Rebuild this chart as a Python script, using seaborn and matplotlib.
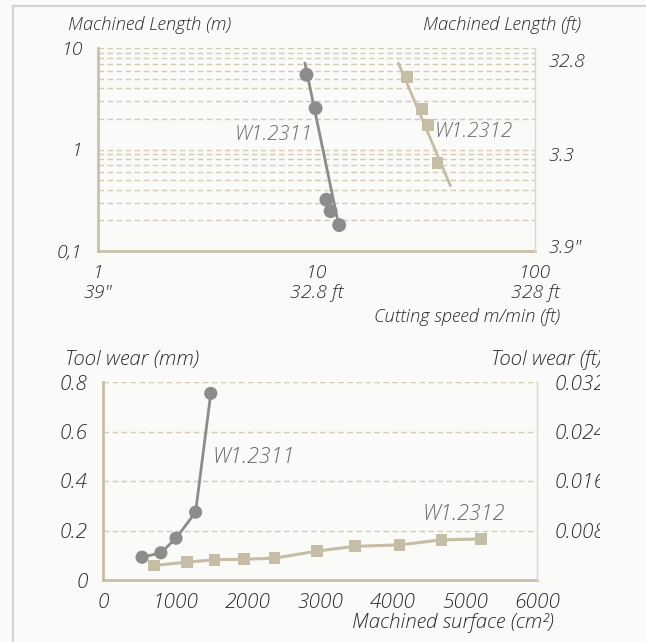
import numpy as np
import pandas as pd
import matplotlib
matplotlib.use("Agg")
import matplotlib.pyplot as plt
import matplotlib.ticker as mticker
from matplotlib.lines import Line2D
import seaborn as sns

# ---------------- data ----------------
# Top chart: machined length (m) vs cutting speed (m/min), log-log
speed_2311 = [9.0, 9.9, 11.1, 11.6, 12.7]
length_2311 = [5.45, 2.55, 0.32, 0.247, 0.18]
speed_2312 = [25.9, 30.5, 32.3, 35.8]
length_2312 = [5.16, 2.5, 1.74, 0.73]
# power-law trend lines (end values)
trend_speed_2311 = [8.85, 12.5]
trend_length_2311 = [7.1, 0.2]
trend_speed_2312 = [23.7, 41.0]
trend_length_2312 = [7.1, 0.44]

top_xticks = [1, 10, 100]
top_xlabels = ['1\n39"', '10\n32.8 ft', '100\n328 ft']
top_yticks = [0.1, 1, 10]
top_ylabels = ['0,1', '1', '10']
top_rticks = [7.66, 0.9, 0.113]
top_rlabels = ['32.8', '3.3', '3.9"']

# Bottom chart: tool wear (mm) vs machined surface (cm²)
surface_2311 = [540, 800, 1010, 1280, 1490]
wear_2311 = [0.092, 0.11, 0.169, 0.274, 0.754]
surface_2312 = [710, 1160, 1540, 1950, 2370, 2960, 3480, 4100, 4680, 5230]
wear_2312 = [0.059, 0.072, 0.082, 0.084, 0.088, 0.117, 0.136, 0.142, 0.162, 0.166]

bot_xticks = [0, 1000, 2000, 3000, 4000, 5000, 6000]
bot_yticks = [0, 0.2, 0.4, 0.6, 0.8]
bot_ylabels = ['0', '0.2', '0.4', '0.6', '0.8']
bot_rticks = [0.2, 0.4, 0.6, 0.8]
bot_rlabels = ['0.008', '0.016', '0.024', '0.032']

# ---------------- style ----------------
BG = '#fafaf8'
GRAY = '#8c8c8c'
TAN = '#c6bda6'
SPINE = '#c9c0aa'
GRID = '#d3cbb7'
TXT = '#2a2a2a'
LBL = '#6a6a6a'

sns.set_theme(style="white")
plt.rcParams['font.family'] = ['Open Sans', 'DejaVu Sans']
plt.rcParams['font.style'] = 'italic'
plt.rcParams['font.weight'] = 'light'
plt.rcParams['text.color'] = TXT
plt.rcParams['xtick.color'] = TXT
plt.rcParams['ytick.color'] = TXT

W, H = 646, 642
fig = plt.figure(figsize=(W / 100, H / 100), dpi=100, facecolor=BG)


def rect(x0, y0, x1, y1):
    return [x0 / W, 1 - y1 / H, (x1 - x0) / W, (y1 - y0) / H]


def fx(x):
    return x / W


def fy(y):
    return 1 - y / H


# frame lines
fig.add_artist(Line2D([fx(13), fx(13)], [fy(6), 0], color='#d2d2d2', lw=1.6))
fig.add_artist(Line2D([fx(13), 1], [fy(6), fy(6)], color='#d2d2d2', lw=1.6))

TICK_TOP = 14
TICK_BOT = 15
TITLE_FS_TOP = 13.2
TITLE_FS_BOT = 14.8


def style_main(ax, fs):
    ax.set_facecolor(BG)
    for s in ['top', 'right']:
        ax.spines[s].set_visible(False)
    for s in ['left', 'bottom']:
        ax.spines[s].set_color(SPINE)
        ax.spines[s].set_linewidth(2)
    ax.tick_params(axis='y', length=0, labelsize=fs, pad=11, labelcolor=TXT)
    ax.tick_params(axis='x', which='major', direction='inout', length=9, width=1.2,
                   color=SPINE, labelsize=fs, pad=5, labelcolor=TXT)
    ax.tick_params(axis='x', which='minor', length=0)


def style_right(axr, fs):
    axr.set_facecolor('none')
    for s in ['top', 'left', 'bottom']:
        axr.spines[s].set_visible(False)
    axr.spines['right'].set_color('#dcd6c8')
    axr.spines['right'].set_linewidth(1)
    axr.tick_params(axis='y', which='both', length=0, labelsize=fs, pad=10, labelcolor=TXT)


# ---------------- top chart ----------------
ax1 = fig.add_axes(rect(98, 48, 535, 251))
style_main(ax1, TICK_TOP)
ax1.set_xscale('log')
ax1.set_yscale('log')
ax1.set_xlim(1, 100)
ax1.set_ylim(0.1, 10)
ax1.yaxis.set_major_locator(mticker.FixedLocator(top_yticks))
ax1.yaxis.set_minor_locator(mticker.LogLocator(base=10, subs=np.arange(2, 10)))
ax1.yaxis.set_minor_formatter(mticker.NullFormatter())
ax1.set_yticklabels(top_ylabels)
ax1.tick_params(axis='y', which='minor', length=0)
ax1.xaxis.set_major_locator(mticker.FixedLocator(top_xticks))
ax1.xaxis.set_minor_locator(mticker.NullLocator())
ax1.set_xticklabels(top_xlabels, linespacing=1.15)
ax1.yaxis.grid(True, which='both', linestyle=(0, (4, 2.5)), color=GRID, linewidth=1)
ax1.xaxis.grid(False)

sns.lineplot(x=trend_speed_2311, y=trend_length_2311, ax=ax1, color=GRAY, lw=2, zorder=3)
sns.lineplot(x=trend_speed_2312, y=trend_length_2312, ax=ax1, color=TAN, lw=2, zorder=3)
sns.scatterplot(x=speed_2311, y=length_2311, ax=ax1, color=GRAY, marker='o', s=100,
                edgecolor='none', zorder=4)
sns.scatterplot(x=speed_2312, y=length_2312, ax=ax1, color=TAN, marker='s', s=72,
                edgecolor='none', zorder=4)
ax1.text(9.64, 1.39, 'W1.2311', ha='right', va='center', fontsize=14.8, color=LBL)
ax1.text(34.9, 1.48, 'W1.2312', ha='left', va='center', fontsize=14.8, color=LBL)
ax1.set_xlabel('')
ax1.set_ylabel('')

ax1r = ax1.twinx()
style_right(ax1r, TICK_TOP)
ax1r.set_yscale('log')
ax1r.set_ylim(0.1, 10)
ax1r.yaxis.set_major_locator(mticker.FixedLocator(top_rticks))
ax1r.yaxis.set_minor_locator(mticker.NullLocator())
ax1r.set_yticklabels(top_rlabels)

fig.text(fx(68), fy(25), 'Machined Length (m)', ha='left', va='center', fontsize=TITLE_FS_TOP)
fig.text(fx(581), fy(25), 'Machined Length (ft)', ha='right', va='center', fontsize=TITLE_FS_TOP)
fig.text(fx(560), fy(317), 'Cutting speed m/min (ft)', ha='right', va='center', fontsize=TITLE_FS_TOP)

# ---------------- bottom chart ----------------
ax2 = fig.add_axes(rect(103, 382, 537, 580))
style_main(ax2, TICK_BOT)
ax2.set_xlim(0, 6000)
ax2.set_ylim(0, 0.8)
ax2.xaxis.set_major_locator(mticker.FixedLocator(bot_xticks))
ax2.set_xticklabels([str(v) for v in bot_xticks])
ax2.yaxis.set_major_locator(mticker.FixedLocator(bot_yticks))
ax2.set_yticklabels(bot_ylabels)
ax2.yaxis.grid(True, linestyle=(0, (4, 2.5)), color=GRID, linewidth=1)
ax2.xaxis.grid(False)

sns.lineplot(x=surface_2311, y=wear_2311, ax=ax2, color=GRAY, lw=2, zorder=3)
sns.lineplot(x=surface_2312, y=wear_2312, ax=ax2, color=TAN, lw=2.2, zorder=3)
sns.scatterplot(x=surface_2311, y=wear_2311, ax=ax2, color=GRAY, marker='o', s=90,
                edgecolor='none', zorder=4)
sns.scatterplot(x=surface_2312, y=wear_2312, ax=ax2, color=TAN, marker='s', s=72,
                edgecolor='none', zorder=4)
ax2.text(1507, 0.497, 'W1.2311', ha='left', va='center', fontsize=15.6, color=LBL)
ax2.text(4410, 0.267, 'W1.2312', ha='left', va='center', fontsize=15.6, color=LBL)
ax2.set_xlabel('')
ax2.set_ylabel('')

ax2r = ax2.twinx()
style_right(ax2r, TICK_BOT)
ax2r.set_ylim(0, 0.8)
ax2r.yaxis.set_major_locator(mticker.FixedLocator(bot_rticks))
ax2r.set_yticklabels(bot_rlabels)
ax2r.tick_params(axis='y', pad=13)

fig.text(fx(65), fy(360), 'Tool wear (mm)', ha='left', va='center', fontsize=TITLE_FS_BOT)
fig.text(fx(491), fy(360), 'Tool wear (ft)', ha='left', va='center', fontsize=TITLE_FS_BOT)
fig.text(fx(554), fy(623), 'Machined surface (cm²)', ha='right', va='center', fontsize=TITLE_FS_BOT)

# the original inset is cut off at x = 600 px
cover = fig.add_axes([fx(600), fy(642), 1 - fx(600), (642 - 335) / H], zorder=20)
cover.set_facecolor(BG)
for s in cover.spines.values():
    s.set_visible(False)
cover.set_xticks([])
cover.set_yticks([])

fig.savefig('out.png', dpi=100, facecolor=BG)
